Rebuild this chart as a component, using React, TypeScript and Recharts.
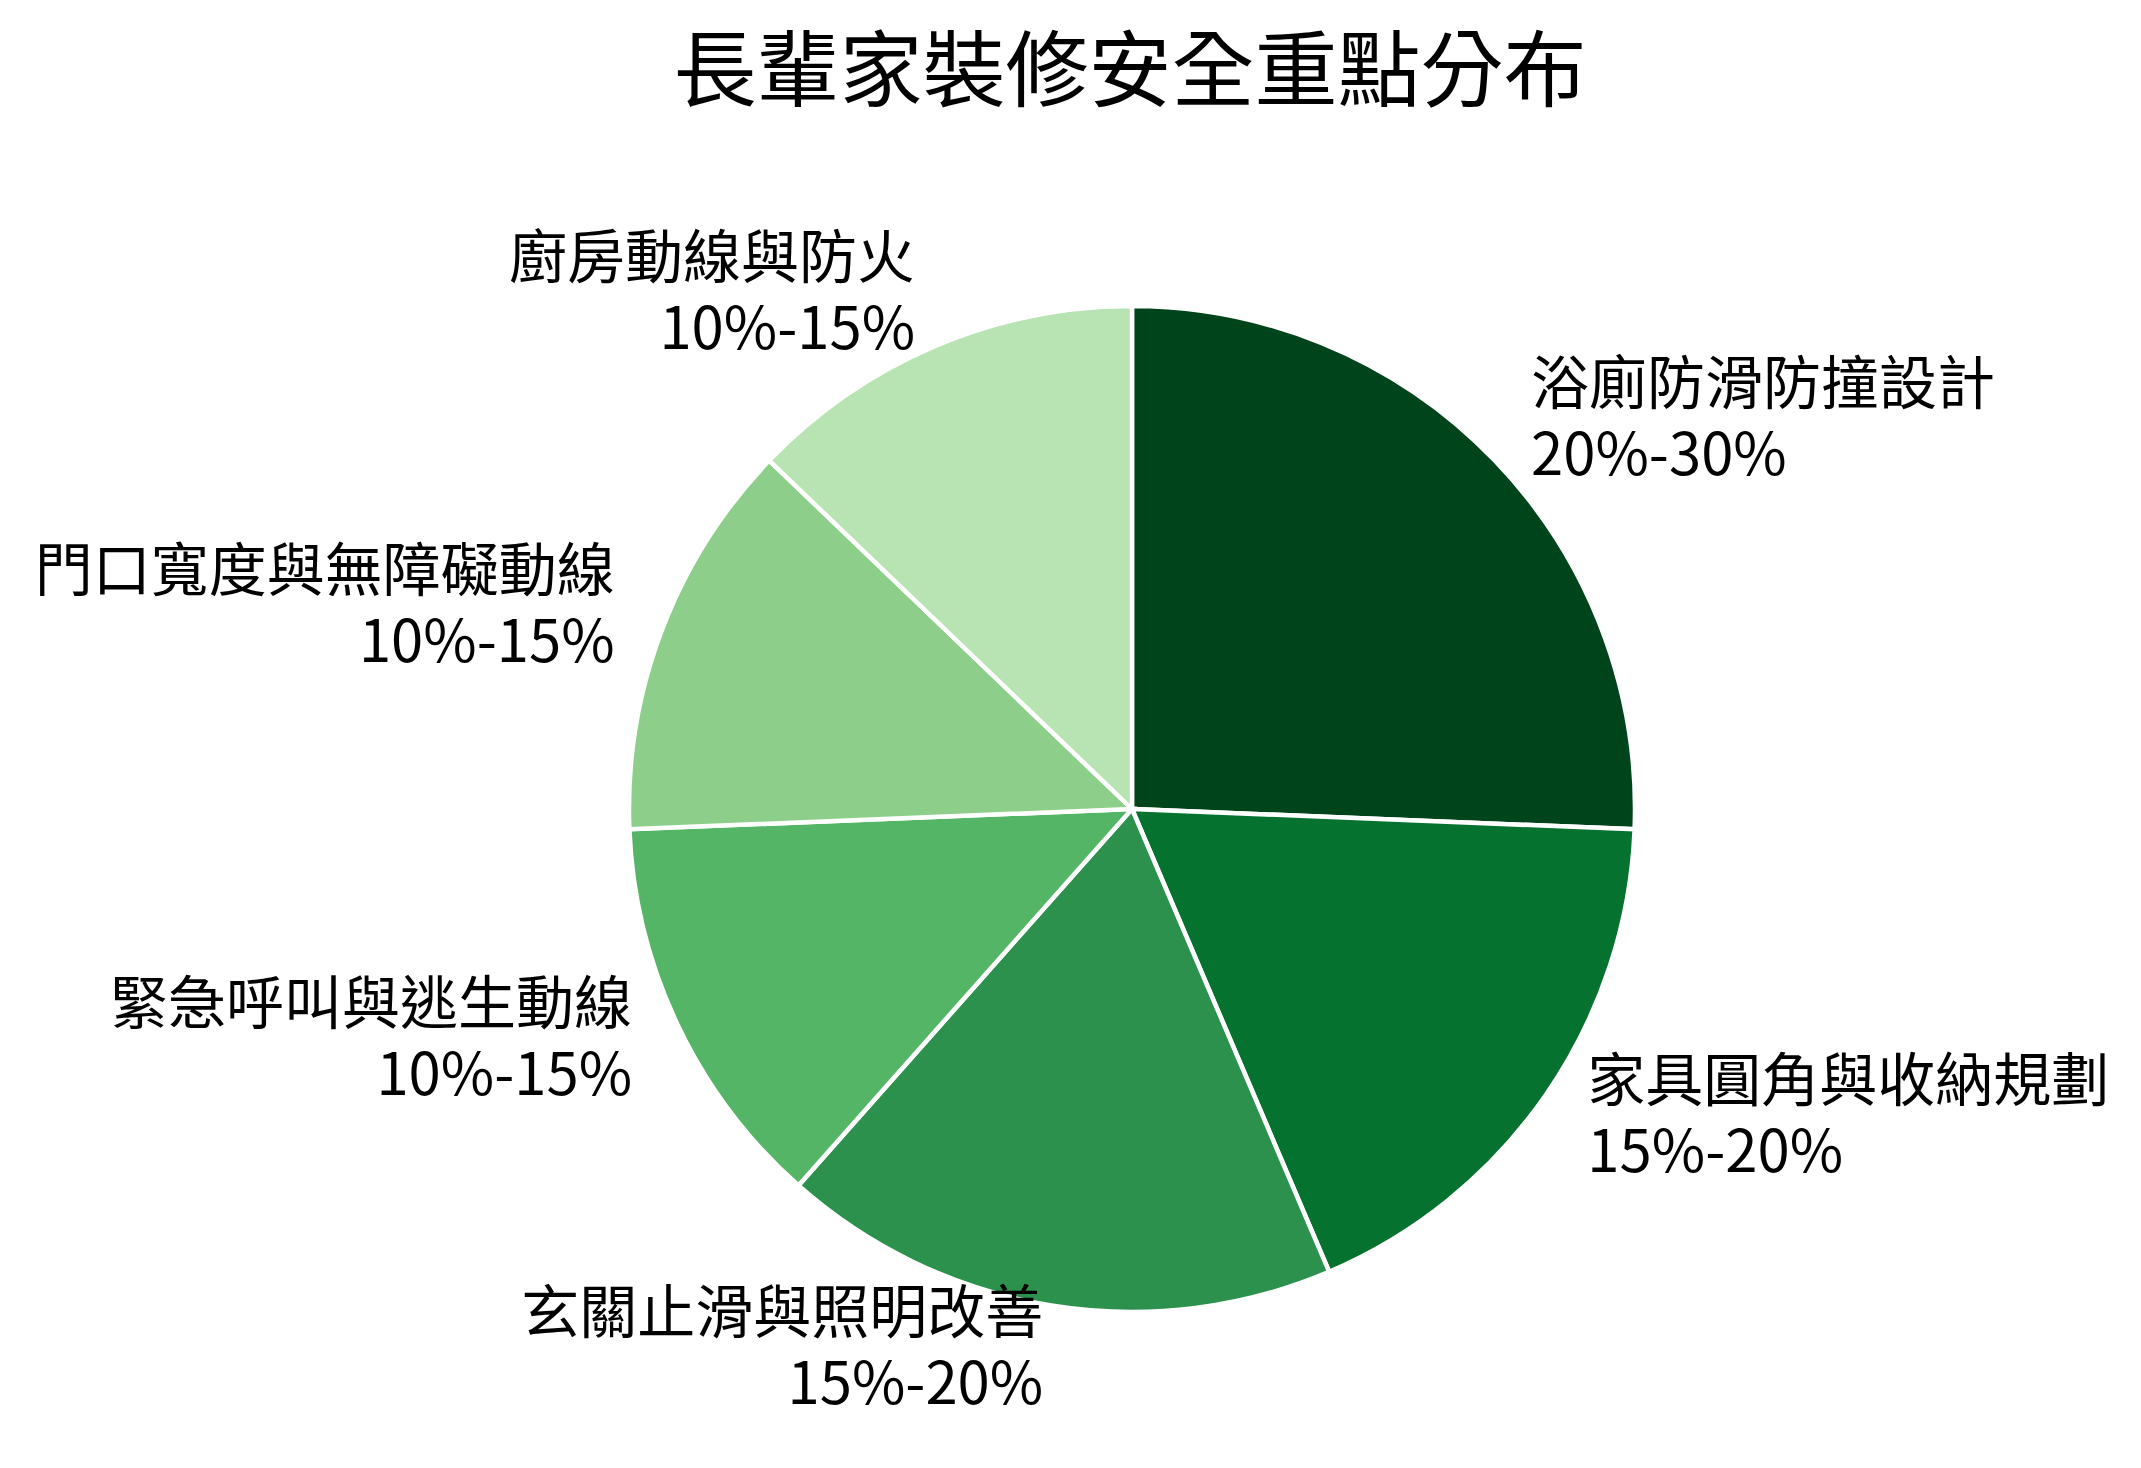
import React from 'react';
import { PieChart, Pie, Cell } from 'recharts';

const categories = [
  '浴廁防滑防撞設計',
  '家具圓角與收納規劃',
  '玄關止滑與照明改善',
  '緊急呼叫與逃生動線',
  '門口寬度與無障礙動線',
  '廚房動線與防火',
];
const ranges = ['20%-30%', '15%-20%', '15%-20%', '10%-15%', '10%-15%', '10%-15%'];
const values = [25, 17.5, 17.5, 12.5, 12.5, 12.5];
const colors = ['#00441b', '#067230', '#2c914d', '#55b567', '#8dcf8a', '#b8e3b2'];

const title = '長輩家裝修安全重點分布';

const data = categories.map((name, i) => ({ name, value: values[i], range: ranges[i] }));

const FONT = '"Noto Sans CJK TC", "Noto Sans CJK SC", "Noto Sans", sans-serif';
const RAD = Math.PI / 180;

const renderLabel = (props: any) => {
  const { cx, cy, midAngle, outerRadius, index } = props;
  const r = outerRadius * 1.1;
  const x = cx + r * Math.cos(midAngle * RAD);
  const y = cy - r * Math.sin(midAngle * RAD);
  const anchor = x >= cx ? 'start' : 'end';
  return (
    <text x={x} y={y} textAnchor={anchor} fontSize={58} fontFamily={FONT} fill="#000">
      <tspan x={x} y={y - 47} dominantBaseline="central">{categories[index]}</tspan>
      <tspan x={x} y={y + 24} dominantBaseline="central">{ranges[index]}</tspan>
    </text>
  );
};

export default function App() {
  return (
    <div style={{ position: 'absolute', left: 0, top: 0, width: 2141, height: 1468, background: '#fff' }}>
      <div
        style={{
          position: 'absolute',
          left: 0,
          width: 2260,
          top: 14,
          height: 100,
          lineHeight: '100px',
          textAlign: 'center',
          fontSize: 83,
          fontFamily: FONT,
          color: '#000',
          whiteSpace: 'nowrap',
        }}
      >
        {title}
      </div>
      <PieChart width={2141} height={1468} style={{ position: 'absolute', left: 0, top: 0 }}>
        <Pie
          data={data}
          dataKey="value"
          nameKey="name"
          cx={1127}
          cy={804}
          outerRadius={503}
          startAngle={90}
          endAngle={-270}
          stroke="#ffffff"
          strokeWidth={4.5}
          label={renderLabel}
          labelLine={false}
          isAnimationActive={false}
        >
          {data.map((d, i) => (
            <Cell key={d.name} fill={colors[i]} />
          ))}
        </Pie>
      </PieChart>
    </div>
  );
}
